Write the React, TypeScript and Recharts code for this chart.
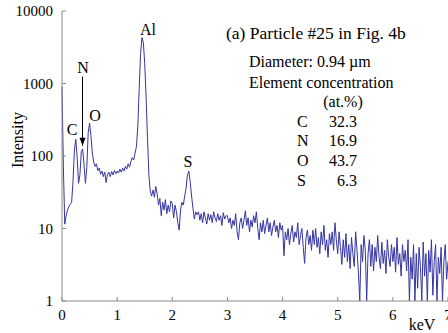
import React from 'react';
import { LineChart, Line, XAxis, YAxis, ReferenceDot, ReferenceLine } from 'recharts';

// Energy channels (keV): first channel and channel width
const CHANNEL_START_KEV = 0;
const CHANNEL_STEP_KEV = 0.025;

// Counts per channel, in 0.5 keV blocks
const COUNTS_0_0 = [900, 70, 11.5, 15, 18, 20, 21.5, 23, 45, 120, 170, 95, 42, 55, 115, 125, 75, 42, 70, 210];
const COUNTS_0_5 = [285, 190, 110, 82, 72, 78, 63, 68, 56, 62, 52, 60, 43, 56, 60, 52, 61, 55, 63, 57];
const COUNTS_1_0 = [62, 58, 66, 60, 68, 62, 72, 66, 78, 70, 84, 95, 88, 110, 135, 260, 850, 2600, 4300, 3700];
const COUNTS_1_5 = [1900, 650, 180, 55, 33, 28, 34, 27, 38, 30, 21, 26, 15, 23, 18, 25, 16, 21, 17, 24];
const COUNTS_2_0 = [22, 14, 21, 17, 12, 9.5, 18, 23, 21, 28, 36, 55, 62, 44, 28, 19, 13.5, 17, 15.5, 17];
const COUNTS_2_5 = [13, 16, 12, 17, 14, 11.5, 16, 13, 15.5, 12, 17, 14, 12.5, 16, 13, 15, 11, 16.5, 13.5, 15];
const COUNTS_3_0 = [15, 12, 14, 10, 13, 11, 16, 9, 7, 12, 14, 10, 13, 17.5, 11, 14, 9, 13, 10.5, 15];
const COUNTS_3_5 = [12, 17, 10, 7, 12, 9, 13, 8.5, 11, 14, 9, 12, 8, 10.5, 13, 9, 11, 7.5, 12, 9.5];
const COUNTS_4_0 = [11, 4.2, 9, 7, 10, 6, 8.5, 11, 6.5, 9, 7.5, 12, 6, 8, 10, 5.5, 3.3, 7.5, 9.5, 6];
const COUNTS_4_5 = [8, 5, 9.5, 6, 10, 5.5, 7.5, 4.5, 9, 6, 11, 5, 7, 4, 8.5, 6, 9, 5, 12, 7];
const COUNTS_5_0 = [4.5, 9, 5.5, 3.2, 7, 4, 8.5, 3.5, 6, 2.8, 7.5, 4.5, 3, 9, 5, 2.5, 1, 6, 3.5, 8];
const COUNTS_5_5 = [5, 1, 4.5, 7, 3, 6, 2.6, 5.5, 3.5, 8, 4, 2.8, 6.5, 3.3, 5, 2.4, 7, 4, 3, 6];
const COUNTS_6_0 = [3.5, 5.5, 2.5, 7.5, 3.2, 4.5, 2.2, 6, 3.5, 5, 2.6, 7, 1, 4, 2, 6, 1, 4.5, 1.5, 5.5];
const COUNTS_6_5 = [3, 1, 6.5, 2.2, 4.5, 1, 5, 2.5, 7, 1.2, 3.5, 6, 1, 4, 2.4, 5.5, 1, 3.5, 6, 2, 3.5];

const COUNTS = [
  ...COUNTS_0_0, ...COUNTS_0_5, ...COUNTS_1_0, ...COUNTS_1_5, ...COUNTS_2_0,
  ...COUNTS_2_5, ...COUNTS_3_0, ...COUNTS_3_5, ...COUNTS_4_0, ...COUNTS_4_5,
  ...COUNTS_5_0, ...COUNTS_5_5, ...COUNTS_6_0, ...COUNTS_6_5,
];

const X_TICKS = [0, 1, 2, 3, 4, 5, 6, 7];
const Y_TICKS = [1, 10, 100, 1000, 10000];

// Peak labels (keV, intensity)
const PEAK_NAMES = ['C', 'N', 'O', 'Al', 'S'];
const PEAK_KEV = [0.181, 0.381, 0.598, 1.56, 2.283];
const PEAK_LABEL_COUNTS = [230, 1668, 360, 5600, 83];

// N arrow (keV, from intensity, to intensity)
const ARROW_KEV = 0.372;
const ARROW_FROM = 1250;
const ARROW_TO = 138;

const CONC_TITLE = '(a) Particle #25 in Fig. 4b';
const CONC_DIAMETER = 'Diameter: 0.94 \u00b5m';
const CONC_HEAD = 'Element concentration';
const CONC_UNIT = '(at.%)';
const CONC_ELEMENTS = ['C', 'N', 'O', 'S'];
const CONC_VALUES = ['32.3', '16.9', '43.7', '6.3'];

const data = COUNTS.map((c, i) => ({
  kev: Number((CHANNEL_START_KEV + i * CHANNEL_STEP_KEV).toFixed(3)),
  counts: c,
}));

const FONT = '"Liberation Serif", "Times New Roman", serif';
const AXIS = '#8a8a8a';
const LINE = '#3535a3';

const XTick = (props: any) => {
  const { x, y, payload } = props;
  return (
    <g>
      <line x1={x} x2={x} y1={y} y2={y - 4} stroke={AXIS} />
      <text x={x} y={y + 19} textAnchor="middle" fontSize={15} fill="#000" fontFamily={FONT}>
        {payload.value}
      </text>
    </g>
  );
};

const YTick = (props: any) => {
  const { x, y, payload } = props;
  return (
    <g>
      <line x1={x} x2={x + 4} y1={y} y2={y} stroke={AXIS} />
      <text x={x - 9} y={y} dy="0.35em" textAnchor="end" fontSize={15} fill="#000" fontFamily={FONT}>
        {payload.value}
      </text>
    </g>
  );
};

const makeTextShape = (label: string) => (props: any) => {
  const { cx, cy } = props;
  return (
    <text x={cx} y={cy} dy="0.35em" textAnchor="middle" fontSize={16} fill="#000" fontFamily={FONT}>
      {label}
    </text>
  );
};

const ArrowHead = (props: any) => {
  const { cx, cy } = props;
  return <path d={`M${cx - 3},${cy - 8} L${cx + 3},${cy - 8} L${cx},${cy} Z`} fill="#000" />;
};

export default function App() {
  return (
    <div style={{ position: 'absolute', left: 0, top: 0, width: 448, height: 333, overflow: 'hidden', background: '#fff' }}>
      <LineChart width={470} height={333} data={data} margin={{ top: 11, right: 22, bottom: 0, left: 0 }}>
        <XAxis
          xAxisId="top"
          orientation="top"
          type="number"
          dataKey="kev"
          domain={[0, 7]}
          height={0}
          tick={false}
          tickLine={false}
          axisLine={{ stroke: AXIS }}
        />
        <XAxis
          dataKey="kev"
          type="number"
          domain={[0, 7]}
          ticks={X_TICKS}
          height={32}
          tickSize={0}
          tickMargin={0}
          tickLine={false}
          axisLine={{ stroke: AXIS }}
          tick={<XTick />}
          interval={0}
        />
        <YAxis
          scale="log"
          domain={[1, 10000]}
          ticks={Y_TICKS}
          allowDataOverflow
          width={62}
          tickSize={0}
          tickMargin={0}
          tickLine={false}
          axisLine={{ stroke: AXIS }}
          tick={<YTick />}
          interval={0}
        />
        <Line
          dataKey="counts"
          type="linear"
          stroke={LINE}
          strokeWidth={1}
          dot={false}
          isAnimationActive={false}
        />
        <ReferenceLine
          segment={[{ x: ARROW_KEV, y: ARROW_FROM }, { x: ARROW_KEV, y: ARROW_TO }]}
          stroke="#000"
          strokeWidth={1}
        />
        <ReferenceDot x={ARROW_KEV} y={ARROW_TO} r={0} shape={<ArrowHead />} />
        {PEAK_NAMES.map((n, i) => (
          <ReferenceDot key={n} x={PEAK_KEV[i]} y={PEAK_LABEL_COUNTS[i]} r={0} shape={makeTextShape(n)} />
        ))}
      </LineChart>
      <svg width={448} height={333} style={{ position: 'absolute', left: 0, top: 0, pointerEvents: 'none' }}>
        <g fontFamily={FONT} fill="#000">
          <text x={17} y={140} transform="rotate(-90 17 140)" textAnchor="middle" dy="0.35em" fontSize={16}>
            Intensity
          </text>
          <text x={422} y={324} textAnchor="middle" dy="0.35em" fontSize={16}>keV</text>
          <text x={226} y={33} dy="0.35em" fontSize={17.5}>{CONC_TITLE}</text>
          <text x={249} y={61} dy="0.35em" fontSize={16}>{CONC_DIAMETER}</text>
          <text x={249} y={82} dy="0.35em" fontSize={16}>{CONC_HEAD}</text>
          <text x={343} y={101} dy="0.35em" textAnchor="middle" fontSize={16}>{CONC_UNIT}</text>
          {CONC_ELEMENTS.map((el, i) => (
            <g key={el}>
              <text x={297} y={121 + i * 19.7} dy="0.35em" fontSize={16}>{el}</text>
              <text x={357} y={121 + i * 19.7} dy="0.35em" textAnchor="end" fontSize={16}>{CONC_VALUES[i]}</text>
            </g>
          ))}
        </g>
      </svg>
    </div>
  );
}
